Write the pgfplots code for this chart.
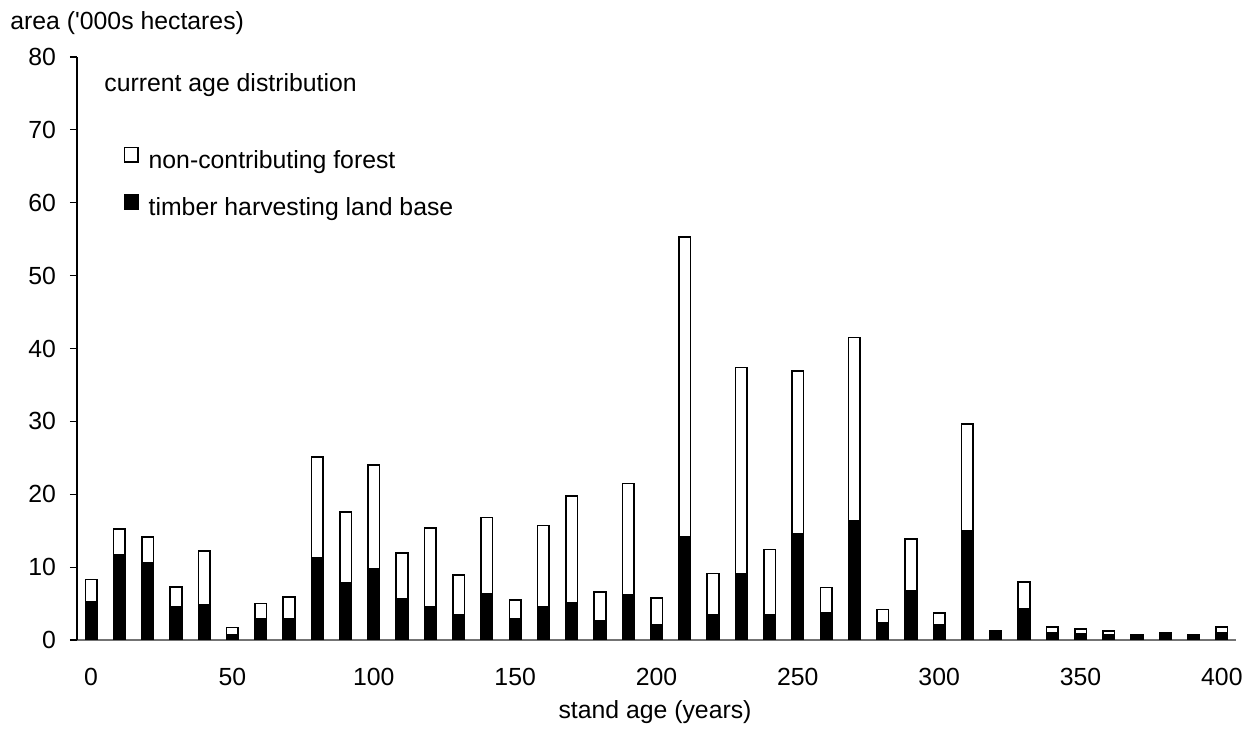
\documentclass[border=0pt]{standalone}
\usepackage{fontspec}
\setmainfont{Liberation Sans}
\usepackage{pgfplots}
\usepackage{pgfplotstable}
\pgfplotsset{compat=1.18}
\pgfplotstableread{
x black white
0 5.3 3.0
10 11.7 3.5
20 10.6 3.5
30 4.6 2.7
40 4.8 7.4
50 0.7 1.0
60 2.9 2.1
70 2.9 3.0
80 11.3 13.8
90 7.8 9.8
100 9.8 14.2
110 5.6 6.3
120 4.6 10.8
130 3.4 5.5
140 6.4 10.4
150 2.9 2.6
160 4.5 11.2
170 5.1 14.7
180 2.6 4.0
190 6.2 15.3
200 2.1 3.7
210 14.1 41.2
220 3.4 5.7
230 9.1 28.3
240 3.4 9.0
250 14.6 22.3
260 3.7 3.5
270 16.4 25.1
280 2.4 1.8
290 6.7 7.2
300 2.1 1.6
310 15.0 14.6
320 1.2 0.0
330 4.3 3.7
340 1.0 0.8
350 0.9 0.6
360 0.7 0.5
370 0.5 0.2
380 1.0 0.0
390 0.5 0.2
400 1.0 0.8
}\agedata
\begin{document}
\begin{tikzpicture}[font=\fontsize{12.4}{14}\selectfont]
\useasboundingbox (0,0) rectangle (624pt,367pt);
\begin{axis}[
  at={(38.5pt,47pt)}, anchor=south west,
  scale only axis, width=579.5pt, height=291.5pt,
  xmin=-5, xmax=405, ymin=0, ymax=80,
  axis x line*=bottom, axis y line*=left,
  x axis line style={draw=black!55, line width=0.6pt},
  y axis line style={draw=black, line width=0.6pt},
  ybar stacked, bar width=5.8pt,
  xtick={0,50,...,400}, ytick={0,10,...,80},
  x tick style={draw=none},
  y tick style={draw=black, line width=0.6pt},
  tick align=outside, major tick length=3.5pt,
  /pgf/number format/assume math mode=true,
  ticklabel style={font=\fontsize{12.4}{14}\selectfont},
  xticklabel style={yshift=-7pt},
  yticklabel style={xshift=-3.5pt},
  legend style={at={(0.0406,0.8483)}, anchor=north west, draw=none, fill=none,
    inner sep=0pt, outer sep=0pt, row sep=7.6pt, column sep=3pt,
    nodes={inner sep=2pt, text height=9.3pt, text depth=2.6pt, font=\fontsize{12.4}{14}\selectfont}},
  legend cell align=left,
  reverse legend,
  legend image code/.code={\draw[#1, line width=0.7pt] (0pt,-0.3pt) rectangle (6.6pt,6.8pt);},
]
\addplot[fill=black, draw=black, line width=0.8pt] table[x=x, y=black] {\agedata};
\addlegendentry{timber harvesting land base}
\addplot[fill=white, draw=black, line width=0.8pt] table[x=x, y=white] {\agedata};
\addlegendentry{non-contributing forest}
\end{axis}
\node[anchor=base west, inner sep=0pt] at (5pt,352pt) {area (\textquotesingle000s hectares)};
\node[anchor=base west, inner sep=0pt] at (52pt,321.25pt) {current age distribution};
\node[anchor=base, inner sep=0pt] at (327.5pt,8pt) {stand age (years)};
\end{tikzpicture}
\end{document}
